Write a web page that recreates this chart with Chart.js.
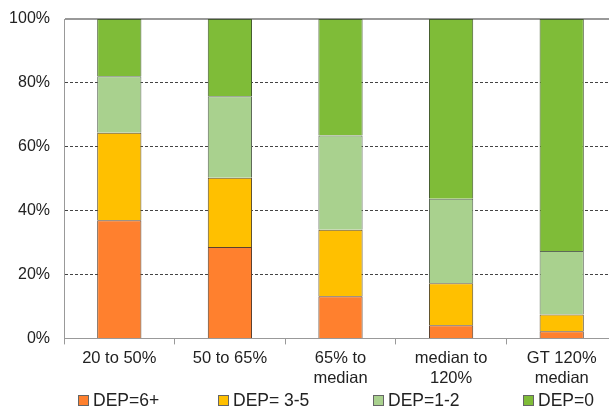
<!DOCTYPE html>
<html>
<head>
<meta charset="utf-8">
<script src="https://cdn.jsdelivr.net/npm/chart.js@4/dist/chart.umd.min.js"></script>
<style>
  html, body { margin: 0; padding: 0; background: #fff; overflow: hidden; }
  #wrap { position: relative; width: 618px; height: 410px; }
  #leyenda { position: absolute; left: 0; top: 390px; width: 618px; height: 20px;
    font-family: 'Liberation Sans', Arial, sans-serif; font-size: 17.5px; color: #222; }
  #leyenda .item { position: absolute; top: 0; white-space: nowrap; line-height: 20px; }
  #leyenda .caja { display: inline-block; width: 9px; height: 9px; margin-right: 4px;
    vertical-align: 0px; border: 1px solid #555; }
</style>
</head>
<body>
<div id="wrap">
  <canvas id="myChart" width="618" height="410"></canvas>
  <div id="leyenda"></div>
</div>
<script>
// categorias del eje x (lineas separadas)
const categorias = [
  ["20 to 50%"],
  ["50 to 65%"],
  ["65% to", "median"],
  ["median to", "120%"],
  ["GT 120%", "median"]
];

// porcentajes, de abajo hacia arriba
const dep6mas = [37.0, 28.6, 13.2, 4.1, 2.2];
const dep3a5 = [27.4, 21.7, 20.8, 13.2, 5.3];
const dep1a2 = [17.7, 25.5, 29.5, 26.4, 19.9];
const dep0 = [17.9, 24.2, 36.5, 56.3, 72.6];

const nombresSeries = ["DEP=6+", "DEP= 3-5", "DEP=1-2", "DEP=0"];
const ticksY = [0, 20, 40, 60, 80, 100];

const colores = ["#FF802E", "#FFC000", "#A9D18E", "#7FBC38"];
const bordes = ["#5a4030", "#5f5230", "#5d6a58", "#455c30"];

const graph = document.querySelector("#myChart");
const fuente = "'Liberation Sans', Arial, sans-serif";

const serie = (i, data) => ({
  label: nombresSeries[i],
  data: data,
  backgroundColor: colores[i],
  borderColor: bordes[i],
  borderWidth: 1,
  barPercentage: 0.4,
  categoryPercentage: 1.0
});

const chart = new Chart(graph, {
  type: "bar",
  data: {
    labels: categorias,
    datasets: [serie(0, dep6mas), serie(1, dep3a5), serie(2, dep1a2), serie(3, dep0)]
  },
  options: {
    responsive: false,
    animation: false,
    layout: { padding: { top: 19, right: 1, left: 0, bottom: 18 } },
    scales: {
      x: {
        stacked: true,
        offset: true,
        grid: {
          offset: true,
          drawOnChartArea: false,
          drawTicks: true,
          tickLength: 6,
          color: "#999"
        },
        border: { color: "#999", width: 1 },
        ticks: {
          color: "#222",
          font: { family: fuente, size: 16.5 },
          padding: 4,
          maxRotation: 0,
          autoSkip: false
        }
      },
      y: {
        stacked: true,
        min: 0,
        max: 100,
        afterFit: (scale) => {
          scale.width = 64;
          scale.paddingTop = 0;
          scale.paddingBottom = 0;
        },
        afterBuildTicks: (axis) => {
          axis.ticks = ticksY.map((v) => ({ value: v }));
        },
        grid: {
          drawTicks: false,
          color: (ctx) => (ctx.tick && (ctx.tick.value === 100 || ctx.tick.value === 0)) ? "#999" : "#444",
          lineWidth: (ctx) => (ctx.tick && ctx.tick.value === 100) ? 2 : 1
        },
        border: {
          color: "#999",
          width: 1,
          dash: (ctx) => (ctx.tick && (ctx.tick.value === 100 || ctx.tick.value === 0)) ? [] : [3, 2]
        },
        ticks: {
          color: "#222",
          font: { family: fuente, size: 16 },
          padding: 14,
          callback: (v) => v + "%"
        }
      }
    },
    plugins: {
      legend: { display: false },
      tooltip: { enabled: false }
    }
  }
});

// leyenda en html, con las posiciones del original
const posLeyenda = [78, 218, 373, 523];
const leyenda = document.querySelector("#leyenda");
chart.data.datasets.forEach((ds, i) => {
  const item = document.createElement("span");
  item.className = "item";
  item.style.left = posLeyenda[i] + "px";
  const caja = document.createElement("span");
  caja.className = "caja";
  caja.style.background = ds.backgroundColor;
  caja.style.borderColor = "#666";
  item.appendChild(caja);
  item.appendChild(document.createTextNode(ds.label));
  leyenda.appendChild(item);
});
</script>
</body>
</html>
